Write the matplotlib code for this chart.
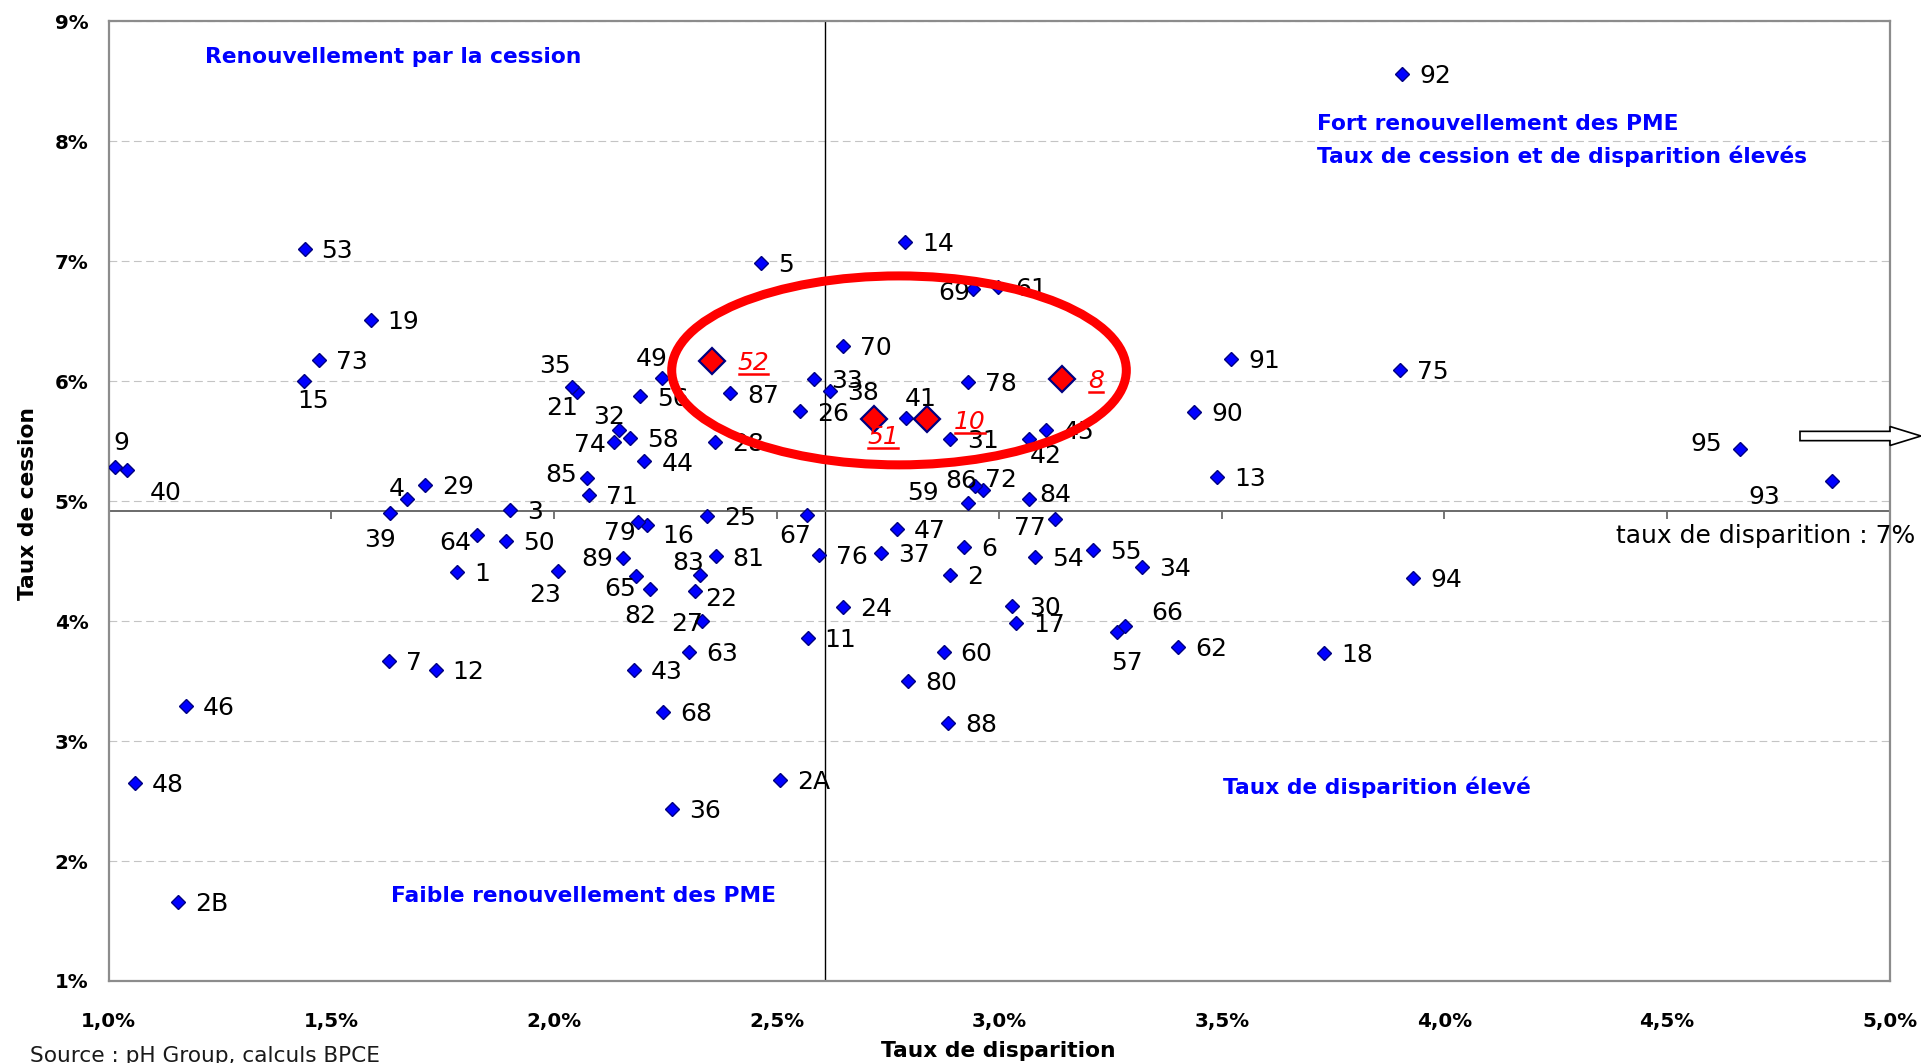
import matplotlib
matplotlib.use("Agg")
import matplotlib.pyplot as plt
from matplotlib.patches import Ellipse, FancyArrow
from matplotlib.lines import Line2D
from matplotlib.transforms import ScaledTranslation

# ---------------- data ----------------
departements = ['1', '2', '2A', '2B', '3', '4', '5', '6', '7', '8', '9', '10', '11', '12', '13', '14',
                '15', '16', '17', '18', '19', '21', '22', '23', '24', '25', '26', '27', '28', '29', '30',
                '31', '32', '33', '34', '35', '36', '37', '38', '39', '40', '41', '42', '43', '44', '45',
                '46', '47', '48', '49', '50', '51', '52', '53', '54', '55', '56', '57', '58', '59', '60',
                '61', '62', '63', '64', '65', '66', '67', '68', '69', '70', '71', '72', '73', '74', '75',
                '76', '77', '78', '79', '80', '81', '82', '83', '84', '85', '86', '87', '88', '89', '90',
                '91', '92', '93', '94', '95']
taux_disparition = [1.782, 2.890, 2.508, 1.156, 1.902, 1.669, 2.465, 2.922, 1.630, 3.142, 1.015, 2.838,
                    2.570, 1.734, 3.489, 2.788, 1.438, 2.209, 3.038, 3.729, 1.588, 2.051, 2.316, 2.008,
                    2.649, 2.343, 2.552, 2.333, 2.361, 1.710, 3.029, 2.890, 2.146, 2.585, 3.320, 2.041,
                    2.265, 2.734, 2.621, 1.631, 1.040, 2.790, 3.066, 2.180, 2.203, 3.105, 1.174, 2.770,
                    1.058, 2.243, 1.893, 2.719, 2.355, 1.440, 3.080, 3.211, 2.194, 3.265, 2.171, 2.929,
                    2.875, 2.998, 3.402, 2.304, 1.827, 2.185, 3.283, 2.568, 2.245, 2.942, 2.650, 2.078,
                    2.964, 1.472, 2.134, 3.901, 2.595, 3.125, 2.931, 2.189, 2.795, 2.363, 2.215, 2.328,
                    3.066, 2.074, 2.946, 2.396, 2.886, 2.154, 3.438, 3.521, 3.905, 4.870, 3.930, 4.663]
taux_cession = [4.410, 4.388, 2.678, 1.657, 4.928, 5.017, 6.983, 4.620, 3.670, 6.017, 5.287, 5.681,
                3.859, 3.590, 5.200, 7.164, 5.999, 4.803, 3.981, 3.731, 6.510, 5.906, 4.253, 4.420,
                4.115, 4.878, 5.748, 4.001, 5.492, 5.138, 4.123, 5.517, 5.595, 6.015, 4.455, 5.953,
                2.435, 4.570, 5.915, 4.902, 5.258, 5.695, 5.517, 3.590, 5.331, 5.595, 3.290, 4.765,
                2.651, 6.023, 4.667, 5.684, 6.165, 7.101, 4.536, 4.595, 5.873, 3.906, 5.528, 4.986,
                3.740, 6.785, 3.781, 3.740, 4.718, 4.378, 3.961, 4.886, 3.245, 6.767, 6.295, 5.051,
                5.092, 6.180, 5.492, 6.093, 4.553, 4.851, 5.995, 4.828, 3.498, 4.539, 4.267, 4.386,
                5.017, 5.195, 5.128, 5.898, 3.151, 4.528, 5.740, 6.182, 8.563, 5.166, 4.362, 5.436]
highlighted = ['52', '51', '10', '8']

x_ticks = [1.0, 1.5, 2.0, 2.5, 3.0, 3.5, 4.0, 4.5, 5.0]
x_tick_labels = ['1,0%', '1,5%', '2,0%', '2,5%', '3,0%', '3,5%', '4,0%', '4,5%', '5,0%']
y_ticks = [1, 2, 3, 4, 5, 6, 7, 8, 9]
y_tick_labels = ['1%', '2%', '3%', '4%', '5%', '6%', '7%', '8%', '9%']

moyenne_disparition = 2.608   # vertical axis crossing
moyenne_cession = 4.92        # horizontal axis crossing

# ---------------- layout / styles ----------------
label_offsets_px = {  # centre offsets (px, y downwards) for labels not placed to the right
    '35': (-17, -23), '21': (-15, 13), '49': (-10, -22), '32': (-9.5, -14.5), '74': (-23.5, 1),
    '85': (-25.5, -5), '79': (-18.5, 9), '16': (31.6, 8.8), '89': (-25.6, -1), '83': (-11.7, -14),
    '23': (-12.6, 22.5), '65': (-16.5, 10.8), '82': (-9.4, 24.7), '22': (26, 6), '27': (-14.8, 1.3),
    '51': (8.8, 15.5), '41': (14.7, -21.2), '67': (-11.4, 19.3), '59': (-44.5, -12.3),
    '86': (-13.8, -7.1), '72': (17.8, -12.7), '84': (26.7, -6.7), '77': (-24.7, 7), '42': (17.5, 14.5),
    '69': (-18.7, 1.5), '66': (42, -15), '57': (9.5, 28.4), '95': (-33.8, -6.7), '93': (-68, 13.8),
    '9': (6, -25.4), '40': (38.9, 21), '15': (9.4, 17.8), '4': (-9.6, -11.9), '39': (-9.6, 24.8),
    '64': (-21.4, 6.3), '52': (41.4, 0), '8': (33.7, 0), '10': (42.9, 0),
}

W, H = 1921, 1063
fig = plt.figure(figsize=(W / 100, H / 100), dpi=100)
ax_left, ax_right, ax_top, ax_bottom = 108.7, 1889.7, 21.3, 981.0
ax = fig.add_axes([ax_left / W, 1 - ax_bottom / H, (ax_right - ax_left) / W, (ax_bottom - ax_top) / H])
ax.set_xlim(1.0, 5.0)
ax.set_ylim(1, 9)

for s in ax.spines.values():
    s.set_color('#8c8c8c')
    s.set_linewidth(1.6)

ax.set_xticks(x_ticks)
ax.set_xticklabels(x_tick_labels, fontsize=14.3, fontweight='bold')
ax.set_yticks(y_ticks)
ax.set_yticklabels(y_tick_labels, fontsize=14.3, fontweight='bold')
ax.tick_params(axis='x', length=0, pad=22)
ax.tick_params(axis='y', length=0, pad=14.5)

ax.grid(axis='y', color='#c4c4c4', linestyle=(0, (7, 4)), linewidth=0.8, zorder=0)
ax.set_axisbelow(True)

# crossing axes
ax.axvline(moyenne_disparition, color='black', lw=1.0, zorder=1.5)
ax.axhline(moyenne_cession, color='#6a6a6a', lw=1.4, zorder=1.5)
ax.plot(x_ticks[1:-1], [moyenne_cession] * (len(x_ticks) - 2), ls='none', marker=3,
        ms=5.5, mew=1.3, color='#6a6a6a', zorder=1.5)

# points
norm = [i for i, d in enumerate(departements) if d not in highlighted]
hl = [i for i, d in enumerate(departements) if d in highlighted]
ax.plot([taux_disparition[i] for i in norm], [taux_cession[i] for i in norm], ls='none',
        marker='D', ms=6.9, mfc='#0000FF', mec='#000080', mew=1.0, zorder=3)
ax.plot([taux_disparition[i] for i in hl], [taux_cession[i] for i in hl], ls='none',
        marker='D', ms=13.2, mfc='#FF0000', mec='#000080', mew=1.6, zorder=3)

# labels
red_texts = []
for d, xv, yv in zip(departements, taux_disparition, taux_cession):
    if d in label_offsets_px:
        dx, dy = label_offsets_px[d]
        ha = 'center'
    else:
        dx, dy = 17, 0
        ha = 'left'
    trans = ax.transData + ScaledTranslation(dx / 100, -(dy + 9.1) / 100, fig.dpi_scale_trans)
    if d in highlighted:
        t = ax.text(xv, yv, d, transform=trans, ha=ha, va='baseline', fontsize=18,
                    color='#FF0000', style='italic', zorder=4)
        red_texts.append((t, trans, xv, yv))
    else:
        ax.text(xv, yv, d, transform=trans, ha=ha, va='baseline', fontsize=18,
                color='black', zorder=4)

# ellipse
ax.add_patch(Ellipse((2.775, 6.09), 1.021, 1.575, fill=False, ec='#FF0000', lw=6.5, zorder=5))

# quadrant texts
qstyle = dict(transform=ax.transAxes, color='#0000FF', fontsize=15.7, fontweight='bold', va='baseline', ha='left')
ax.text(0.0543, 0.9565, 'Renouvellement par la cession', **qstyle)
ax.text(0.6786, 0.8869, 'Fort renouvellement des PME', **qstyle)
ax.text(0.6786, 0.8524, 'Taux de cession et de disparition élevés', **qstyle)
ax.text(0.6254, 0.1951, 'Taux de disparition élevé', **qstyle)
ax.text(0.1583, 0.0821, 'Faible renouvellement des PME', **qstyle)

# axis titles & source
fig.text(998.4 / W, 1 - 1057 / H, 'Taux de disparition', ha='center', va='baseline',
         fontsize=15.7, fontweight='bold')
fig.text(28 / W, 1 - 503.5 / H, 'Taux de cession', ha='center', va='center', rotation=90,
         fontsize=15.7, fontweight='bold')
fig.text(30.4 / W, 1 - 1062.5 / H, 'Source : pH Group, calculs BPCE', ha='left', va='baseline',
         fontsize=15.6, color='#1a1a1a')

# off-scale annotation
fig.text(1915.4 / W, 1 - 543 / H, 'taux de disparition : 7%', ha='right', va='baseline', fontsize=18)
fig.add_artist(FancyArrow(1800 / W, 1 - 436 / H, (1921 - 1800) / W, 0, width=9.3 / H,
                          head_width=19 / H, head_length=31 / W, length_includes_head=True,
                          fc='white', ec='black', lw=1.2, transform=fig.transFigure))

# underline red labels
fig.canvas.draw()
renderer = fig.canvas.get_renderer()
inv = fig.transFigure.inverted()
for t, trans, xv, yv in red_texts:
    bb = t.get_window_extent(renderer)
    base_y = trans.transform((xv, yv))[1]
    p0 = inv.transform((bb.x0 + 1, base_y - 4))
    p1 = inv.transform((bb.x1 - 1, base_y - 4))
    fig.add_artist(Line2D([p0[0], p1[0]], [p0[1], p1[1]], color='#FF0000', lw=1.8,
                          transform=fig.transFigure))

fig.savefig('out.png', dpi=100)
